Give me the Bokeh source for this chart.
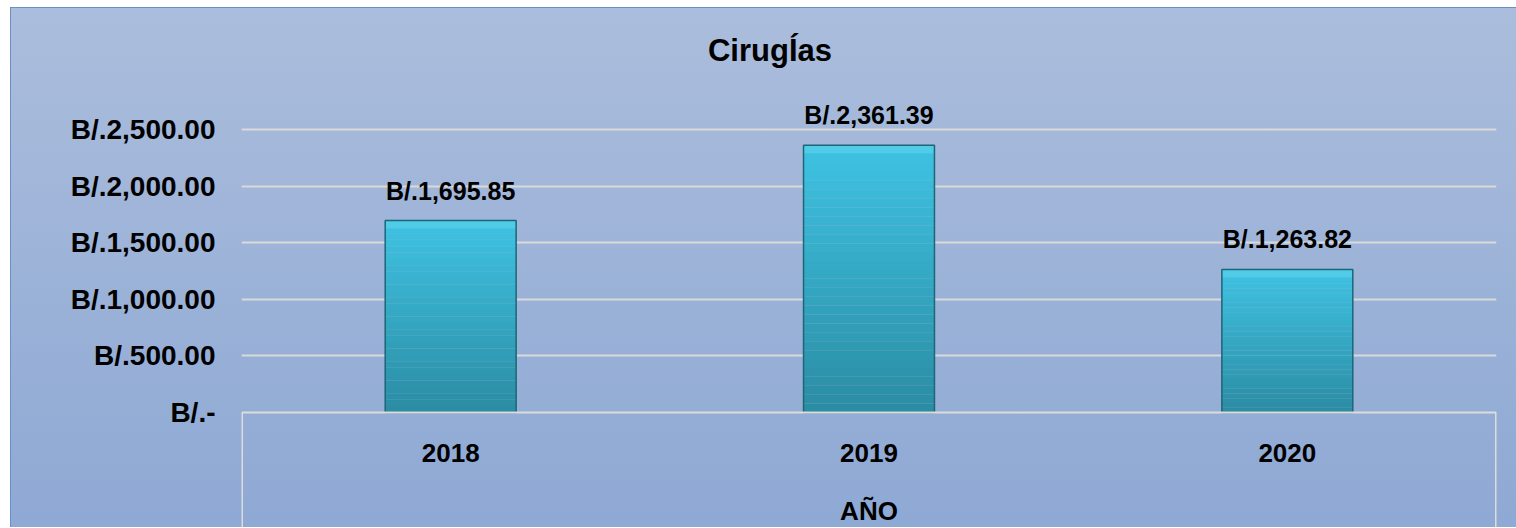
from bokeh.plotting import figure
from bokeh.models import FactorRange, Range1d, FixedTicker, ColumnDataSource
from bokeh.core.properties import value
from bokeh.embed import file_html
from bokeh.resources import INLINE

# ---- data ----
years = ["2018", "2019", "2020"]
amounts = [1695.85, 2361.39, 1263.82]
amount_labels = ["B/.1,695.85", "B/.2,361.39", "B/.1,263.82"]
y_ticks = [0, 500, 1000, 1500, 2000, 2500]
y_tick_labels = ["B/.-", "B/.500.00", "B/.1,000.00", "B/.1,500.00", "B/.2,000.00", "B/.2,500.00"]
title_text = "CirugÍas"
x_title = "AÑO"

FONT = "Liberation Sans"
W, H = 1506, 520
PX_PER_UNIT = 0.1132
y0_px = 412 - 8  # pixel row of zero, measured from figure top

p = figure(
    width=W, height=H,
    x_range=FactorRange(factors=years, range_padding=0),
    y_range=Range1d(-(H - y0_px) / PX_PER_UNIT, y0_px / PX_PER_UNIT),
    output_backend="svg", toolbar_location=None,
    min_border_left=230, min_border_right=21, min_border_top=0, min_border_bottom=0,
)
p.styles = {
    "margin-left": "10px",
    "margin-top": "7px",
    "background": "linear-gradient(to bottom, #abbddc, #8ea9d4)",
    "border-left": "1px solid #6a8fc6",
    "border-top": "1px solid #6a8fc6",
}
p.background_fill_alpha = 0
p.border_fill_alpha = 0
p.outline_line_color = None

p.xaxis.visible = False
p.xgrid.grid_line_color = None

p.yaxis.ticker = FixedTicker(ticks=y_ticks)
p.yaxis.major_label_overrides = {t: l for t, l in zip(y_ticks, y_tick_labels)}
p.yaxis.axis_line_color = None
p.yaxis.major_tick_line_color = None
p.yaxis.minor_tick_line_color = None
p.yaxis.major_label_standoff = 20
p.yaxis.major_label_text_font = FONT
p.yaxis.major_label_text_font_style = "bold"
p.yaxis.major_label_text_font_size = "28px"
p.yaxis.major_label_text_color = "black"

p.ygrid.ticker = FixedTicker(ticks=y_ticks[1:])
p.ygrid.grid_line_color = "#d9d9d9"
p.ygrid.grid_line_width = 2

# ---- bars with vertical gradient ----
BAR_W = 0.313
N = 30
top_c = (0x3e, 0xc2, 0xe2)
bot_c = (0x2b, 0x8d, 0xa4)
xs, tops, bots, cols = [], [], [], []
for yr, v in zip(years, amounts):
    for i in range(N):
        t = v * (N - i) / N
        b = v * (N - i - 1) / N
        f = i / (N - 1)
        c = tuple(int(round(top_c[k] + (bot_c[k] - top_c[k]) * f)) for k in range(3))
        xs.append(yr); tops.append(t); bots.append(b)
        cols.append("#%02x%02x%02x" % c)
p.vbar(x=xs, top=tops, bottom=bots, width=BAR_W, fill_color=cols, line_color=None)

# bevel highlight at top of each bar
bevel = 8 / PX_PER_UNIT
p.vbar(x=years, top=amounts, bottom=[a - bevel for a in amounts], width=BAR_W,
       fill_color="#6fdcf2", fill_alpha=0.4, line_color=None)
# outline
p.vbar(x=years, top=amounts, bottom=0, width=BAR_W, fill_color=None,
       line_color="#1c6677", line_width=1.5)

# value labels
src = ColumnDataSource(dict(x=years, y=amounts, t=amount_labels))
p.text(x="x", y="y", text="t", source=src, y_offset=-30,
       text_align="center", text_baseline="middle",
       text_font=value(FONT), text_font_style="bold", text_font_size="25px",
       text_color="black")

# category axis box
p.segment(x0=[0], y0=[0], x1=[len(years)], y1=[0], line_color="#dcdcdc", line_width=2)
p.segment(x0=[0, len(years)], y0=[0, 0], x1=[0, len(years)],
          y1=[p.y_range.start, p.y_range.start], line_color="#dcdcdc", line_width=3)

p.text(x=years, y=[0] * len(years), text=years, y_offset=40,
       text_align="center", text_baseline="middle",
       text_font=value(FONT), text_font_style="bold", text_font_size="26px",
       text_color="black")
p.text(x=[len(years) / 2], y=[0], text=[x_title], y_offset=98,
       text_align="center", text_baseline="middle",
       text_font=value(FONT), text_font_style="bold", text_font_size="26px",
       text_color="black")

# title
p.text(x=[len(years) / 2], y=[0], text=[title_text], x_offset=-99, y_offset=-362,
       text_align="center", text_baseline="middle",
       text_font=value(FONT), text_font_style="bold", text_font_size="31px",
       text_color="black")

open("out.html", "w").write(file_html(p, INLINE))
